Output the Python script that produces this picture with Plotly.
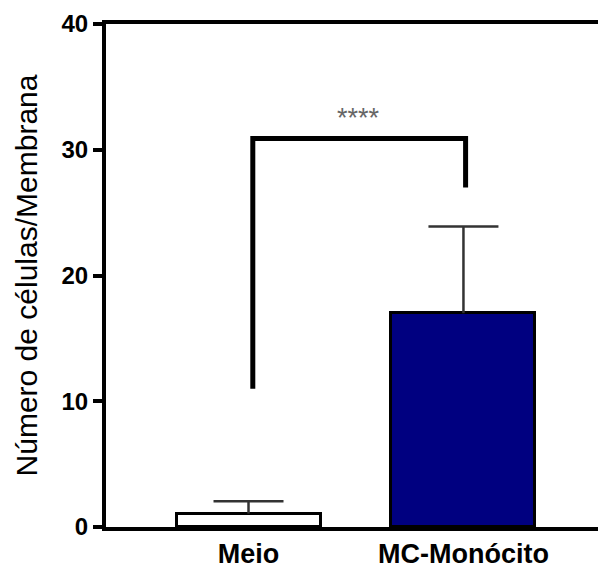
import plotly.graph_objects as go

categories = ["Meio", "MC-Monócito"]
means = [1.07, 17.0]
errors_up = [0.98, 6.9]
bar_colors = ["#ffffff", "#000080"]

bracket_x = [0.02, 0.02, 1.01, 1.01]
bracket_y = [11.0, 30.9, 30.9, 27.0]
sig_label = "****"
sig_x = 0.514
sig_y = 32.5

y_ticks = [0, 10, 20, 30, 40]
y_title = "Número de células/Membrana"

xpos = list(range(len(categories)))
tops = [m + e for m, e in zip(means, errors_up)]

fig = go.Figure()
fig.add_trace(go.Bar(
    x=xpos, y=means, width=0.67,
    marker=dict(color=bar_colors, line=dict(color="black", width=3)),
    showlegend=False,
))
# upward error bars: stems
stem_x, stem_y = [], []
for xi, m, t in zip(xpos, means, tops):
    stem_x += [xi, xi, None]
    stem_y += [m, t, None]
fig.add_trace(go.Scatter(
    x=stem_x, y=stem_y, mode="lines",
    line=dict(color="#333333", width=2.5), showlegend=False, hoverinfo="skip",
))
# caps only
fig.add_trace(go.Scatter(
    x=xpos, y=tops, mode="markers", marker=dict(size=1, opacity=0),
    error_y=dict(type="data", array=[0]*len(tops), symmetric=True,
                 color="#333333", thickness=2.5, width=35),
    showlegend=False, hoverinfo="skip",
))
fig.add_trace(go.Scatter(
    x=bracket_x, y=bracket_y, mode="lines",
    line=dict(color="black", width=5), showlegend=False, hoverinfo="skip",
))
fig.add_annotation(x=sig_x, y=sig_y, text=sig_label, showarrow=False,
                   font=dict(family="Liberation Sans", size=27, color="#666666"),
                   xref="x", yref="y")

fig.update_layout(
    width=598, height=568,
    margin=dict(l=106, r=0, t=24, b=41),
    plot_bgcolor="white", paper_bgcolor="white",
    font=dict(family="Liberation Sans", color="black"),
    bargap=0,
)
fig.update_xaxes(
    range=[-0.663, 1.626], tickvals=xpos, ticktext=categories,
    showline=True, linecolor="black", linewidth=4, mirror=True,
    ticks="", showgrid=False, zeroline=False,
    tickfont=dict(family="Liberation Sans", size=27, color="black", weight="bold"),
)
fig.update_yaxes(
    range=[0, 40], tickvals=y_ticks,
    showline=True, linecolor="black", linewidth=4,
    ticks="outside", ticklen=9, tickwidth=4, tickcolor="black",
    showgrid=False, zeroline=False,
    tickfont=dict(family="Liberation Sans", size=24, color="black", weight="bold"),
    title=dict(text=y_title, standoff=16,
               font=dict(family="Liberation Sans", size=30, color="black")),
)
fig.write_html("out.html")
